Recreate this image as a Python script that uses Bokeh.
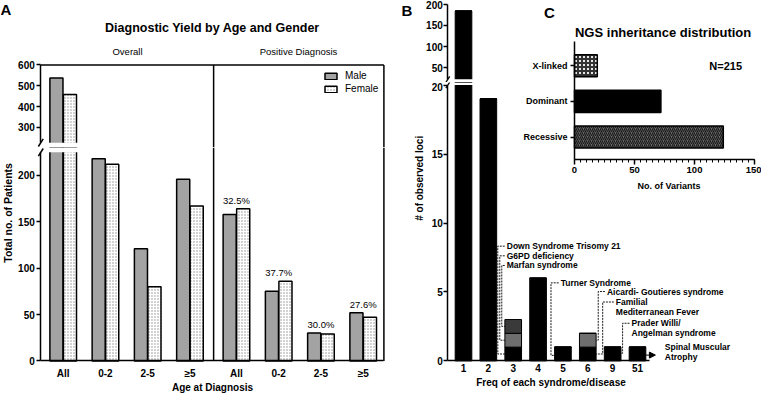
import math
from bokeh.plotting import figure
from bokeh.layouts import row, column
from bokeh.models import (Range1d, FixedTicker, Label, Legend, LegendItem,
                          ColumnDataSource, Arrow, NormalHead)
from bokeh.core.properties import value
from bokeh.embed import file_html
from bokeh.resources import INLINE

FONT = "Liberation Sans"

# ---------------- data ----------------
age_groups = ["All", "0-2", "2-5", "≥5"]
overall_male = [537, 218, 121, 196]
overall_female = [458, 212, 80, 167]
positive_male = [158, 75, 30, 52]
positive_female = [164, 86, 29, 47]
positive_yield = ["32.5%", "37.7%", "30.0%", "27.6%"]

freq_labels = ["1", "2", "3", "4", "5", "6", "9", "51"]
loci_black = [184, 19, 1, 6, 1, 1, 1, 1]
loci_gray = [0, 0, 1, 0, 0, 1, 0, 0]
loci_darkgray = [0, 0, 1, 0, 0, 0, 0, 0]

inheritance = ["Recessive", "Dominant", "X-linked"]
variants = [124, 72, 19]
n_total = 215


# ---------------- geometry helpers (page pixel layout) ----------------
class Frame:
    """Maps a canvas placed at page (left, top, width, height) so that data value
    xa sits at page x pxa, xb at pxb, ya at page y pya and yb at pyb."""

    def __init__(self, left, top, width, height, xa, pxa, xb, pxb, ya, pya, yb, pyb):
        self.left, self.top, self.width, self.height = left, top, width, height
        self.sx = (pxb - pxa) / (xb - xa)
        self.sy = (pya - pyb) / (yb - ya)
        self.x0 = xa - (pxa - left) / self.sx
        self.x1 = self.x0 + width / self.sx
        self.y0 = ya - (top + height - pya) / self.sy
        self.y1 = self.y0 + height / self.sy

    def dx(self, px):
        return self.x0 + (px - self.left) / self.sx

    def dy(self, py):
        return self.y0 + (self.top + self.height - py) / self.sy


def make_fig(fr, **kw):
    p = figure(width=fr.width, height=fr.height,
               x_range=Range1d(fr.x0, fr.x1), y_range=Range1d(fr.y0, fr.y1),
               toolbar_location=None, output_backend="svg",
               min_border=0, min_border_left=0, min_border_right=0,
               min_border_top=0, min_border_bottom=0, **kw)
    p.outline_line_color = None
    p.xgrid.visible = False
    p.ygrid.visible = False
    p.background_fill_color = "white"
    p.border_fill_color = "white"
    return p


def style_axis(ax, loc, bounds, size="10px", tick_out=4, standoff=3):
    ax.fixed_location = loc
    ax.bounds = bounds
    ax.axis_line_width = 1.5
    ax.axis_line_color = "black"
    ax.major_tick_line_width = 1.5
    ax.major_tick_line_color = "black"
    ax.major_tick_in = 0
    ax.major_tick_out = tick_out
    ax.minor_tick_line_color = None
    ax.major_label_text_font = FONT
    ax.major_label_text_font_style = "bold"
    ax.major_label_text_font_size = size
    ax.major_label_text_color = "black"
    ax.major_label_standoff = standoff


def add_label(p, fr, text, px, py, size, bold=True, align="center", angle=0.0):
    p.add_layout(Label(x=fr.dx(px), y=fr.dy(py), x_units="data", y_units="data",
                       text=text, text_font=FONT, text_font_size=size,
                       text_font_style="bold" if bold else "normal",
                       text_align=align, text_baseline="middle", angle=angle,
                       text_color="black"))


# ================= Panel A =================
group_x = [1, 2, 3, 4, 5.1, 6.1, 7.1, 8.1]
divider_x = 4.56
a_left, a_right = 0.47, 8.59
bar_w = 0.31
upper_lo, upper_hi = 226, 600
lower_hi = 225

fa_top = Frame(8, 8, 400, 147, a_left, 48.3, a_right, 391.4, upper_hi, 72.4, upper_lo, 150.2)
fa_bot = Frame(8, 155, 400, 247, a_left, 48.3, a_right, 391.4, 0, 368.4, lower_hi, 159.8)

src_a = ColumnDataSource(dict(
    xm=[x - bar_w / 2 - 0.005 for x in group_x],
    xf=[x + bar_w / 2 + 0.005 for x in group_x],
    male=overall_male + positive_male,
    female=overall_female + positive_female,
))


def draw_a_bars(p):
    rm = p.vbar(x="xm", top="male", bottom=0, width=bar_w, source=src_a,
                fill_color="#a3a3a3", line_color="black", line_width=1.5)
    rf = p.vbar(x="xf", top="female", bottom=0, width=bar_w, source=src_a,
                fill_color="white", hatch_pattern="dot", hatch_color="#8f8f8f",
                hatch_scale=3, hatch_weight=0.9, line_color="black", line_width=1.5)
    return rm, rf


# --- upper segment
pa_top = make_fig(fa_top)
rm, rf = draw_a_bars(pa_top)
pa_top.quad(left=fa_top.x0, right=fa_top.x1, bottom=fa_top.y0, top=upper_lo,
            fill_color="white", line_color=None)
pa_top.segment(x0=[divider_x, a_right, a_left], y0=[fa_top.y0, fa_top.y0, upper_hi],
               x1=[divider_x, a_right, a_right], y1=[upper_hi, upper_hi, upper_hi],
               line_color="black", line_width=1.5)
pa_top.scatter(x=[a_left], y=[upper_lo], marker="dash", size=9, angle=1.0,
               line_color="black", line_width=1.5)
style_axis(pa_top.yaxis[0], a_left, (upper_lo, upper_hi), standoff=2)
pa_top.yaxis[0].ticker = FixedTicker(ticks=[300, 400, 500, 600])
pa_top.xaxis[0].visible = False

legend = Legend(items=[LegendItem(label="Male", renderers=[rm]),
                       LegendItem(label="Female", renderers=[rf])],
                location=(323, 53), orientation="vertical",
                border_line_color=None, background_fill_alpha=0,
                padding=0, margin=0, spacing=2, glyph_width=15, glyph_height=8,
                label_height=10, label_standoff=7,
                label_text_font=FONT, label_text_font_size="10px",
                label_text_color="black")
pa_top.add_layout(legend)

add_label(pa_top, fa_top, "A", 8, 16.5, "15px", align="left")
add_label(pa_top, fa_top, "Diagnostic Yield by Age and Gender", 220, 35, "12.5px")
add_label(pa_top, fa_top, "Overall", 135, 59, "9.5px", bold=False)
add_label(pa_top, fa_top, "Positive Diagnosis", 306, 59, "9.5px", bold=False)

# --- lower segment
pa_bot = make_fig(fa_bot)
draw_a_bars(pa_bot)
pa_bot.quad(left=fa_bot.x0, right=fa_bot.x1, bottom=lower_hi, top=fa_bot.y1,
            fill_color="white", line_color=None)
pa_bot.segment(x0=[divider_x, a_right], y0=[0, 0], x1=[divider_x, a_right],
               y1=[fa_bot.y1, fa_bot.y1], line_color="black", line_width=1.5)
pa_bot.scatter(x=[a_left], y=[lower_hi], marker="dash", size=9, angle=1.0,
               line_color="black", line_width=1.5)
style_axis(pa_bot.yaxis[0], a_left, (0, lower_hi), standoff=2)
pa_bot.yaxis[0].ticker = FixedTicker(ticks=[0, 50, 100, 150, 200])
style_axis(pa_bot.xaxis[0], 0, (a_left, a_right), tick_out=0, standoff=7)
pa_bot.xaxis[0].ticker = FixedTicker(ticks=group_x)
pa_bot.xaxis[0].major_label_overrides = {x: lab for x, lab in zip(group_x, age_groups * 2)}

pa_bot.text(x=group_x[4:], y=[max(m, f) for m, f in zip(positive_male, positive_female)],
            text=positive_yield, text_align="center", text_baseline="bottom",
            y_offset=-3, text_font=value(FONT), text_font_size="9.5px",
            text_color="black")
add_label(pa_bot, fa_bot, "Total no. of Patients", 15.9, 220.4, "10.5px", angle=math.pi / 2)
add_label(pa_bot, fa_bot, "Age at Diagnosis", 220, 395, "10px")

# ================= Panel B =================
bx = list(range(1, len(freq_labels) + 1))
b_left = 0.368
b_axis_end = 8.5
b_upper_lo, b_upper_hi = 22.8, 200
b_lower_hi = 20
fb_top = Frame(408, 8, 361, 82, 1, 471.0, 8, 645.0, b_upper_hi, 11.8, 50, 75.3)
fb_bot = Frame(408, 90, 361, 312, 1, 471.0, 8, 645.0, 0, 368.4, b_lower_hi, 92.6)

src_b = ColumnDataSource(dict(x=bx, black=loci_black, gray=loci_gray, dark=loci_darkgray))


def draw_b_bars(p):
    p.vbar_stack(["black", "gray", "dark"], x="x", width=0.67, source=src_b,
                 fill_color=["#000000", "#6e6e6e", "#3a3a3a"],
                 line_color="black", line_width=1)


pb_top = make_fig(fb_top)
draw_b_bars(pb_top)
pb_top.quad(left=fb_top.x0, right=fb_top.x1, bottom=fb_top.y0, top=b_upper_lo,
            fill_color="white", line_color=None)
pb_top.scatter(x=[b_left], y=[b_upper_lo], marker="dash", size=7, angle=1.0,
               line_color="black", line_width=1.3)
style_axis(pb_top.yaxis[0], b_left, (b_upper_lo, b_upper_hi), standoff=1)
pb_top.yaxis[0].ticker = FixedTicker(ticks=[50, 100, 150, 200])
pb_top.xaxis[0].visible = False
add_label(pb_top, fb_top, "B", 409, 17.5, "15px", align="left")

pb_bot = make_fig(fb_bot)
draw_b_bars(pb_bot)
pb_bot.quad(left=fb_bot.x0, right=fb_bot.x1, bottom=b_lower_hi, top=fb_bot.y1,
            fill_color="white", line_color=None)
pb_bot.scatter(x=[b_left], y=[b_lower_hi], marker="dash", size=7, angle=1.0,
               line_color="black", line_width=1.3)
style_axis(pb_bot.yaxis[0], b_left, (0, b_lower_hi), standoff=1)
pb_bot.yaxis[0].ticker = FixedTicker(ticks=[0, 5, 10, 15, 20])
style_axis(pb_bot.xaxis[0], 0, (b_left, b_axis_end), tick_out=0, standoff=3)
pb_bot.xaxis[0].ticker = FixedTicker(ticks=bx)
pb_bot.xaxis[0].major_label_overrides = {x: lab for x, lab in zip(bx, freq_labels)}
add_label(pb_bot, fb_bot, "# of observed loci", 427, 185.8, "10px", angle=math.pi / 2)
add_label(pb_bot, fb_bot, "Freq of each syndrome/disease", 558.5, 389.5, "10px")

# annotations of panel B (text anchors and dashed leaders, in data units)
ann_text = ["Down Syndrome Trisomy 21", "G6PD deficiency", "Marfan syndrome",
            "Turner  Syndrome", "Aicardi- Goutieres syndrome", "Familial",
            "Mediterranean Fever", "Prader Willi/", "Angelman syndrome",
            "Spinal Muscular", "Atrophy"]
ann_x = [2.74, 2.74, 2.74, 4.91, 6.77, 7.13, 7.13, 7.76, 7.76, 9.10, 9.10]
ann_y = [8.32, 7.62, 6.92, 5.66, 5.03, 4.27, 3.57, 2.73, 2.03, 0.98, 0.28]
pb_bot.text(x=ann_x, y=ann_y, text=ann_text, text_align="left", text_baseline="middle",
            text_font=value(FONT), text_font_size="8.5px", text_font_style="bold",
            text_color="black")
lead_xs = [[2.66, 2.38, 2.38, 2.665], [2.66, 2.46, 2.46, 2.665],
           [2.66, 2.54, 2.54, 2.665], [4.83, 4.52, 4.52, 4.665],
           [6.69, 6.42, 6.42, 6.335], [7.05, 6.6, 6.6, 6.335],
           [7.68, 7.4, 7.4, 7.335]]
lead_ys = [[8.32, 8.32, 0.5, 0.5], [7.62, 7.62, 1.5, 1.5], [6.92, 6.92, 2.5, 2.5],
           [5.66, 5.66, 0.4, 0.4], [5.03, 5.03, 1.5, 1.5], [4.27, 4.27, 0.5, 0.5],
           [2.73, 2.73, 0.55, 0.55]]
pb_bot.multi_line(xs=lead_xs, ys=lead_ys, line_color="black", line_width=0.9,
                  line_dash="2 1")
pb_bot.add_layout(Arrow(end=NormalHead(size=6, line_color="black", fill_color="black"),
                        x_start=8.335, y_start=0.42, x_end=8.72, y_end=0.42,
                        line_color="black", line_width=1))

# ================= Panel C =================
cy = [1, 2, 3]
c_lo, c_hi = 0.354, 3.674
fc = Frame(515, 8, 254, 195, 0, 582.0, 150, 762.0, 1, 144.5, 3, 73.3)
src_c = ColumnDataSource(dict(
    y=cy, right=variants,
    fill=["#6a6a6a", "#000000", "#e6e6e6"],
    hatch=["right_diagonal_line", " ", "cross"],
    hcolor=["#1a1a1a", "#000000", "#333333"],
    hweight=[1.2, 1.0, 2.0],
))
pc = make_fig(fc, margin=(0, 0, 0, -254))
pc.hbar(y="y", right="right", left=0, height=0.62, source=src_c, fill_color="fill",
        hatch_pattern="hatch", hatch_color="hcolor", hatch_scale=4, hatch_weight="hweight",
        line_color="black", line_width=1.5)
style_axis(pc.yaxis[0], 0, (c_lo, c_hi), size="9px", tick_out=4, standoff=3)
pc.yaxis[0].ticker = FixedTicker(ticks=cy)
pc.yaxis[0].major_label_overrides = {y: lab for y, lab in zip(cy, inheritance)}
style_axis(pc.xaxis[0], c_lo, (0, 150), size="9.5px", tick_out=5, standoff=2)
pc.xaxis[0].ticker = FixedTicker(ticks=[0, 50, 100, 150], minor_ticks=list(range(0, 151, 5)))
pc.xaxis[0].minor_tick_line_color = "black"
pc.xaxis[0].minor_tick_line_width = 1
pc.xaxis[0].minor_tick_in = 0
pc.xaxis[0].minor_tick_out = 3
add_label(pc, fc, "C", 557, 19.5, "15px")
add_label(pc, fc, "NGS inheritance distribution", 670.6, 39.7, "13px")
add_label(pc, fc, "No. of Variants", 676.5, 193.5, "9px")
pc.add_layout(Label(x=126, y=3, text="N=%d" % n_total, text_font=FONT,
                    text_font_size="11px", text_font_style="bold", text_align="center",
                    text_baseline="middle", text_color="black"))

layout = row(column(pa_top, pa_bot), column(pb_top, pb_bot), pc)

open("out.html", "w").write(file_html(layout, INLINE))
